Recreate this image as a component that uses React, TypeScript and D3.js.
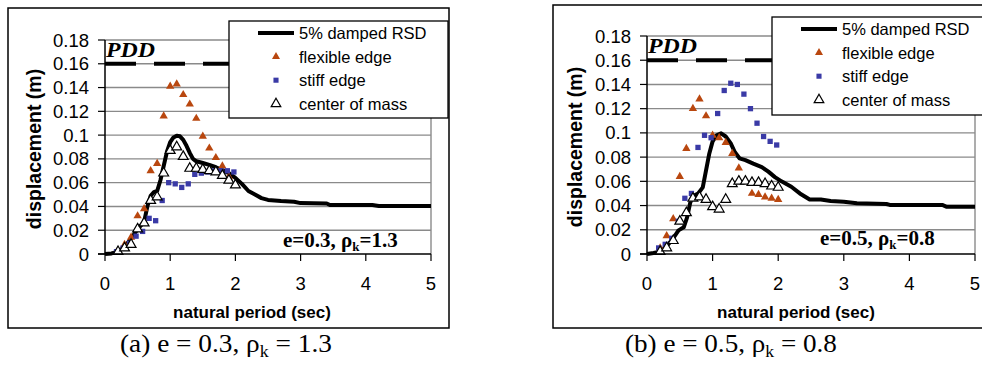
import React, { useEffect, useRef } from "react";
import * as d3 from "d3";

// natural periods (sec) of the analysed models
const periods = [0.2, 0.3, 0.4, 0.5, 0.6, 0.7, 0.8, 0.9, 1.0, 1.1, 1.2, 1.3, 1.4, 1.5, 1.6, 1.7, 1.8, 1.9, 2.0];

// (a) e = 0.3, rho_k = 1.3
const rsdA: [number, number][] = [
  [0, 0], [0.1, 0.0005], [0.2, 0.002], [0.3, 0.006], [0.4, 0.013], [0.5, 0.021], [0.6, 0.027],
  [0.65, 0.04], [0.7, 0.049], [0.75, 0.052], [0.8, 0.053], [0.85, 0.062], [0.9, 0.074],
  [0.95, 0.086], [1.0, 0.094], [1.05, 0.098], [1.1, 0.0995], [1.15, 0.099], [1.2, 0.096],
  [1.25, 0.091], [1.3, 0.085], [1.35, 0.08], [1.4, 0.078], [1.5, 0.0765], [1.6, 0.075],
  [1.7, 0.073], [1.8, 0.0705], [1.9, 0.068], [2.0, 0.064], [2.1, 0.059], [2.2, 0.053],
  [2.3, 0.05], [2.4, 0.047], [2.5, 0.0455], [2.7, 0.0446], [2.9, 0.044], [3.0, 0.0428],
  [3.4, 0.0425], [3.45, 0.0412], [4.1, 0.0412], [4.2, 0.0404], [5.0, 0.0404],
];
const flexA = [0.002, 0.008, 0.014, 0.032, 0.038, 0.07, 0.076, 0.116, 0.141, 0.143, 0.134, 0.126, 0.114, 0.099, 0.089, 0.081, 0.074, 0.065, 0.058];
const stiffA = [0.002, 0.005, 0.009, 0.015, 0.019, 0.03, 0.028, 0.045, 0.06, 0.059, 0.056, 0.059, 0.067, 0.068, 0.069, 0.07, 0.07, 0.07, 0.069];
const comA = [0.002, 0.005, 0.008, 0.021, 0.026, 0.045, 0.048, 0.068, 0.087, 0.09, 0.082, 0.072, 0.072, 0.071, 0.07, 0.069, 0.066, 0.062, 0.058];

// (b) e = 0.5, rho_k = 0.8
const rsdB: [number, number][] = [
  [0, 0], [0.1, 0.0008], [0.2, 0.002], [0.3, 0.0064], [0.4, 0.013], [0.48, 0.0195], [0.56, 0.022],
  [0.61, 0.03], [0.66, 0.0426], [0.71, 0.048], [0.78, 0.05], [0.85, 0.055], [0.9, 0.069],
  [0.95, 0.083], [1.0, 0.093], [1.06, 0.098], [1.13, 0.0996], [1.2, 0.097], [1.28, 0.091],
  [1.34, 0.084], [1.41, 0.079], [1.5, 0.0775], [1.62, 0.0746], [1.75, 0.0718], [1.85, 0.068],
  [1.95, 0.0635], [2.05, 0.06], [2.2, 0.0555], [2.33, 0.05], [2.48, 0.045], [2.65, 0.045],
  [2.8, 0.0438], [3.0, 0.0432], [3.2, 0.0419], [3.65, 0.0413], [3.7, 0.0405], [4.5, 0.0405],
  [4.57, 0.039], [5.0, 0.039],
];
const flexB = [0.005, 0.015, 0.029, 0.064, 0.087, 0.12, 0.128, 0.114, 0.098, 0.096, 0.092, 0.083, 0.071, 0.06, 0.05, 0.049, 0.047, 0.046, 0.045];
const stiffB = [0.005, 0.008, 0.013, 0.027, 0.046, 0.05, 0.088, 0.098, 0.096, 0.116, 0.135, 0.141, 0.14, 0.132, 0.12, 0.108, 0.097, 0.093, 0.09];
const comB = [0.002, 0.005, 0.011, 0.027, 0.034, 0.046, 0.047, 0.045, 0.039, 0.037, 0.045, 0.058, 0.06, 0.06, 0.059, 0.059, 0.058, 0.056, 0.055];

const yTicks = [0, 0.02, 0.04, 0.06, 0.08, 0.1, 0.12, 0.14, 0.16, 0.18];
const xTicks = [0, 1, 2, 3, 4, 5];
const pddLevel = 0.16;
const legendLabels = ["5% damped RSD", "flexible edge", "stiff edge", "center of mass"];

const ORANGE = "#b9470f";
const BLUE = "#3a3aa6";
const SANS = "'Liberation Sans', Arial, sans-serif";
const SERIF = "'Liberation Serif', 'Times New Roman', serif";

type Panel = {
  frame: [number, number, number, number];
  plot: { left: number; right: number; top: number; bottom: number };
  rsd: [number, number][];
  flex: number[];
  stiff: number[];
  com: number[];
  legend: { x: number; y: number; w: number; h: number; row0: number; step: number; lineX: number; textX: number };
  e: string;
  rho: string;
  noteX: number;
  noteY: number;
  yTitleX: number;
  xTitleX: number;
  caption: string;
  captionX: number;
};

const panels: Panel[] = [
  {
    frame: [8, 8, 441, 320],
    plot: { left: 105, right: 431, top: 40, bottom: 254 },
    rsd: rsdA, flex: flexA, stiff: stiffA, com: comA,
    legend: { x: 229, y: 21, w: 219, h: 97, row0: 33, step: 23.6, lineX: 258, textX: 299 },
    e: "0.3", rho: "1.3", noteX: 283, noteY: 247,
    yTitleX: 34, xTitleX: 252,
    caption: "a", captionX: 120,
  },
  {
    frame: [553, 5, 440, 323],
    plot: { left: 647, right: 975, top: 36, bottom: 254 },
    rsd: rsdB, flex: flexB, stiff: stiffB, com: comB,
    legend: { x: 772, y: 17, w: 230, h: 98, row0: 29, step: 23.6, lineX: 801, textX: 842 },
    e: "0.5", rho: "0.8", noteX: 820, noteY: 245,
    yTitleX: 575, xTitleX: 796,
    caption: "b", captionX: 625,
  },
];

function drawPanel(svg: d3.Selection<SVGSVGElement, unknown, null, undefined>, p: Panel) {
  const g = svg.append("g");
  const x = d3.scaleLinear().domain([0, 5]).range([p.plot.left, p.plot.right]);
  const y = d3.scaleLinear().domain([0, 0.18]).range([p.plot.bottom, p.plot.top]);

  g.append("rect")
    .attr("x", p.frame[0]).attr("y", p.frame[1])
    .attr("width", p.frame[2]).attr("height", p.frame[3])
    .attr("fill", "white").attr("stroke", "#000").attr("stroke-width", 1.5);

  // gridlines + right border of plot area
  g.selectAll(".grid").data(yTicks.slice(1)).enter().append("line")
    .attr("x1", x(0)).attr("x2", x(5))
    .attr("y1", (d) => y(d)).attr("y2", (d) => y(d))
    .attr("stroke", "#8a8a8a").attr("stroke-width", 1.4);
  g.append("line")
    .attr("x1", x(5)).attr("x2", x(5)).attr("y1", y(0.18)).attr("y2", y(0))
    .attr("stroke", "#8a8a8a").attr("stroke-width", 1.4);

  // PDD level
  g.append("line")
    .attr("x1", x(0)).attr("x2", x(5))
    .attr("y1", y(pddLevel)).attr("y2", y(pddLevel))
    .attr("stroke", "#000").attr("stroke-width", 4)
    .attr("stroke-dasharray", "31 18");
  g.append("text")
    .attr("x", x(0) + 1).attr("y", y(0.18) + 17)
    .attr("font-family", SERIF).attr("font-style", "italic").attr("font-weight", "bold")
    .attr("font-size", 21).attr("textLength", 49).attr("lengthAdjust", "spacingAndGlyphs")
    .text("PDD");

  // RSD curve
  const line = d3.line<[number, number]>().x((d) => x(d[0])).y((d) => y(d[1]));
  g.append("path").attr("d", line(p.rsd)).attr("fill", "none")
    .attr("stroke", "#000").attr("stroke-width", 4).attr("stroke-linejoin", "round");

  const tri = d3.symbol().type(d3.symbolTriangle);
  const sq = d3.symbol().type(d3.symbolSquare);

  g.selectAll(".flex").data(p.flex).enter().append("path")
    .attr("d", tri.size(30)())
    .attr("transform", (d, i) => `translate(${x(periods[i])},${y(d)})`)
    .attr("fill", ORANGE);
  g.selectAll(".stiff").data(p.stiff).enter().append("path")
    .attr("d", sq.size(28)())
    .attr("transform", (d, i) => `translate(${x(periods[i]) - 1.5},${y(d)})`)
    .attr("fill", BLUE);
  g.selectAll(".com").data(p.com).enter().append("path")
    .attr("d", tri.size(42)())
    .attr("transform", (d, i) => `translate(${x(periods[i])},${y(d)})`)
    .attr("fill", "white").attr("stroke", "#000").attr("stroke-width", 1.2);

  // axes
  g.append("line").attr("x1", x(0)).attr("x2", x(0)).attr("y1", y(0.18)).attr("y2", y(0))
    .attr("stroke", "#000").attr("stroke-width", 1.5);
  g.append("line").attr("x1", x(0) - 7).attr("x2", x(5)).attr("y1", y(0)).attr("y2", y(0))
    .attr("stroke", "#000").attr("stroke-width", 1.5);
  g.selectAll(".yt").data(yTicks).enter().append("line")
    .attr("x1", x(0) - 7).attr("x2", x(0)).attr("y1", (d) => y(d)).attr("y2", (d) => y(d))
    .attr("stroke", "#000").attr("stroke-width", 1.2);
  g.selectAll(".xt").data(xTicks).enter().append("line")
    .attr("x1", (d) => x(d)).attr("x2", (d) => x(d)).attr("y1", y(0)).attr("y2", y(0) + 7)
    .attr("stroke", "#000").attr("stroke-width", 1.2);

  g.selectAll(".yl").data(yTicks).enter().append("text")
    .attr("x", x(0) - 16).attr("y", (d) => y(d) + 6.5)
    .attr("text-anchor", "end").attr("font-family", SANS).attr("font-size", 18.5)
    .text((d) => d3.format("")(+d.toFixed(2)));
  g.selectAll(".xl").data(xTicks).enter().append("text")
    .attr("x", (d) => x(d)).attr("y", y(0) + 36)
    .attr("text-anchor", "middle").attr("font-family", SANS).attr("font-size", 18.5)
    .text((d) => d);

  g.append("text")
    .attr("transform", `translate(${p.yTitleX},${(y(0) + y(0.18)) / 2 + 2}) rotate(-90)`)
    .attr("text-anchor", "middle").attr("dominant-baseline", "central")
    .attr("font-family", SANS).attr("font-weight", "bold").attr("font-size", 19.5)
    .text("displacement (m)");
  g.append("text")
    .attr("x", p.xTitleX).attr("y", 318)
    .attr("text-anchor", "middle").attr("font-family", SANS).attr("font-weight", "bold")
    .attr("font-size", 17)
    .text("natural period (sec)");

  // annotation
  const note = g.append("text").attr("x", p.noteX).attr("y", p.noteY)
    .attr("font-family", SERIF).attr("font-weight", "bold").attr("font-size", 21);
  note.append("tspan").text(`e=${p.e}, ρ`);
  note.append("tspan").attr("font-size", 13).attr("dy", 4).text("k");
  note.append("tspan").attr("dy", -4).text(`=${p.rho}`);

  // legend
  const L = p.legend;
  const lg = g.append("g");
  lg.append("rect").attr("x", L.x).attr("y", L.y).attr("width", L.w).attr("height", L.h)
    .attr("fill", "white").attr("stroke", "#000").attr("stroke-width", 1.3);
  const mid = L.lineX + 18;
  lg.append("line").attr("x1", L.lineX).attr("x2", L.lineX + 36)
    .attr("y1", L.row0).attr("y2", L.row0).attr("stroke", "#000").attr("stroke-width", 4);
  lg.append("path").attr("d", tri.size(28)()).attr("transform", `translate(${mid},${L.row0 + L.step})`)
    .attr("fill", ORANGE);
  lg.append("path").attr("d", sq.size(26)()).attr("transform", `translate(${mid},${L.row0 + 2 * L.step})`)
    .attr("fill", BLUE);
  lg.append("path").attr("d", tri.size(40)()).attr("transform", `translate(${mid},${L.row0 + 3 * L.step})`)
    .attr("fill", "white").attr("stroke", "#000").attr("stroke-width", 1.2);
  lg.selectAll(".lt").data(legendLabels).enter().append("text")
    .attr("x", L.textX).attr("y", (d, i) => L.row0 + i * L.step + 6)
    .attr("font-family", SANS).attr("font-size", 16.5)
    .text((d) => d);

  // caption (tall, condensed serif)
  const cap = svg.append("text").attr("x", p.captionX).attr("y", 352)
    .attr("font-family", SERIF).attr("font-size", 26);
  cap.append("tspan").text(`(${p.caption}) e = ${p.e}, ρ`);
  cap.append("tspan").attr("font-size", 17).attr("dy", 5).text("k");
  cap.append("tspan").attr("dy", -5).text(` = ${p.rho}`);
  const bb = (cap.node() as SVGTextElement).getComputedTextLength();
  if (bb > 0) cap.attr("transform", `translate(${p.captionX},0) scale(${212 / bb},1) translate(${-p.captionX},0)`);
}

export default function App() {
  const ref = useRef<SVGSVGElement>(null);

  useEffect(() => {
    const svg = d3.select(ref.current!);
    svg.selectAll("*").remove();
    svg.append("rect").attr("width", 982).attr("height", 370).attr("fill", "white");
    panels.forEach((p) => drawPanel(svg, p));
    return () => {
      svg.selectAll("*").remove();
    };
  }, []);

  return (
    <svg
      ref={ref}
      width={982}
      height={370}
      style={{ position: "absolute", left: 0, top: 0, display: "block" }}
    />
  );
}
